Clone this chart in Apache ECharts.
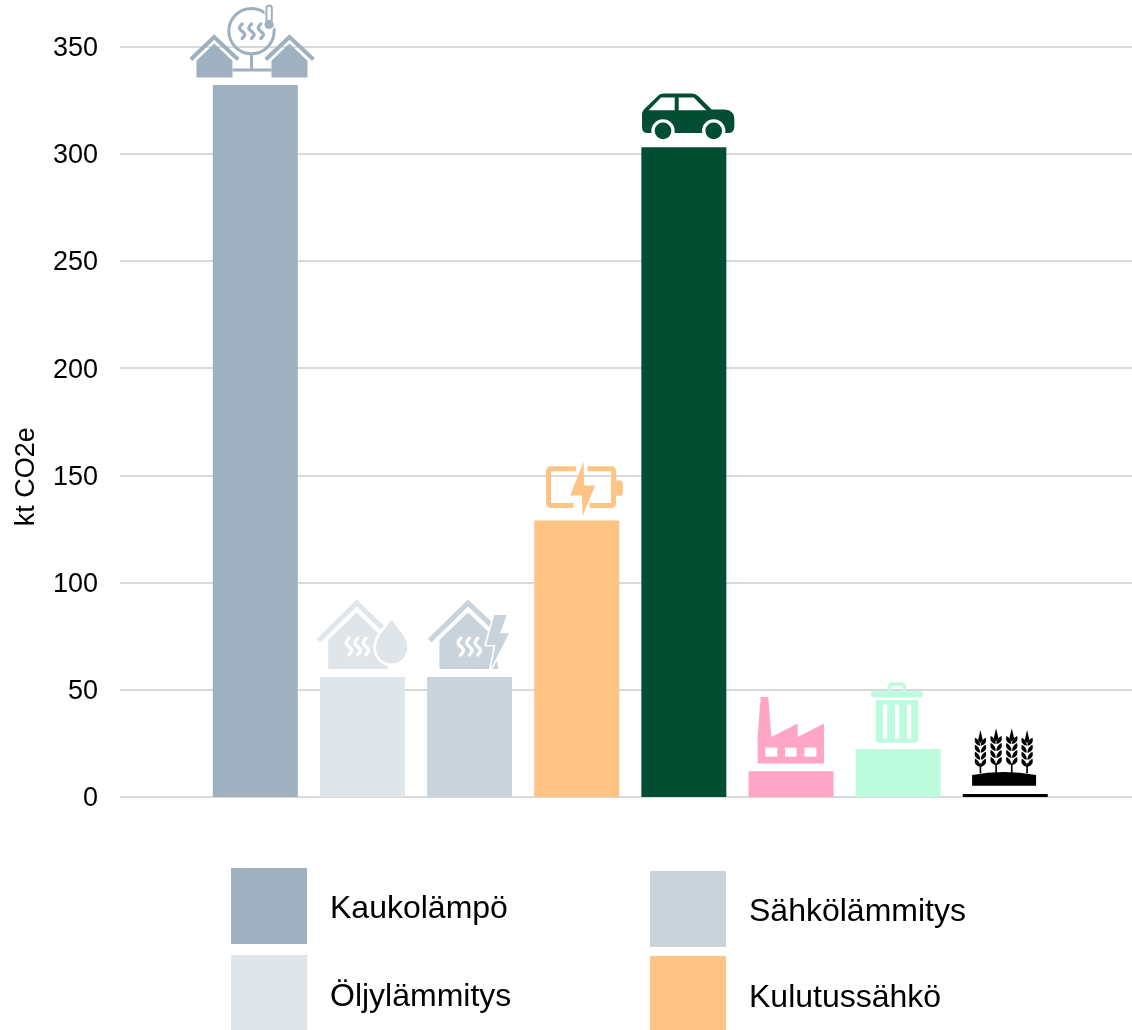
<!DOCTYPE html>
<html>
<head>
<meta charset="utf-8">
<style>html,body{margin:0;padding:0;background:#fff}#c{width:1132px;height:1030px}</style>
<script src="https://cdn.jsdelivr.net/npm/echarts@6/dist/echarts.min.js"></script>
</head>
<body>
<div id="c"></div>
<script>
const categories = ['Kaukolämpö','Öljylämmitys','Sähkölämmitys','Kulutussähkö','Liikenne','Teollisuus','Jätteet','Maatalous'];
const values = [332,56,56,129,303,12,22.4,1.4];
const colors = ['#9FB0C0','#E0E5E9','#C9D3DC','#FFC384','#034E33','#FFA5C6','#BCFBDE','#000000'];
const yTicks = {min:0,max:350,interval:50};

const ff = '"Liberation Sans", Arial, Helvetica, sans-serif';
const WHITE = '#ffffff';
function steam(x,y0,y1){const h=(y1-y0)/2;return `M${x},${y0} C${x-11},${y0+h*0.45} ${x-11},${y0+h*0.65} ${x},${y0+h} C${x+11},${y0+h*1.35} ${x+11},${y0+h*1.55} ${x},${y1}`;}
function fill(p,c){return {type:'path',shape:{pathData:p},style:{fill:c}};}
function line(p,c,w,cap){return {type:'path',shape:{pathData:p},style:{fill:'none',stroke:c,lineWidth:w,lineCap:cap||'butt',lineJoin:'miter'}};}
function outlined(p,c,oc,w){return [{type:'path',shape:{pathData:p},style:{fill:oc,stroke:oc,lineWidth:w,lineJoin:'round'}},fill(p,c)];}
function rect(x,y,w,h,c){return fill(`M${x},${y} H${x+w} V${y+h} H${x} Z`,c);}
function ear(x,top,bottom){
  const out=[fill(`M${x},${top} L${x+7},${top+30} L${x},${top+40} L${x-7},${top+30} Z`,'#000')];
  for(let y=top+24;y<bottom-14;y+=21){
    out.push(fill(`M${x-1},${y+23} C${x-19},${y+20} ${x-18},${y+5} ${x-16},${y-1} C${x-8},${y+3} ${x-1},${y+10} ${x-1},${y+23} Z`,'#000'));
    out.push(fill(`M${x+1},${y+23} C${x+19},${y+20} ${x+18},${y+5} ${x+16},${y-1} C${x+8},${y+3} ${x+1},${y+10} ${x+1},${y+23} Z`,'#000'));
  }
  out.push(line(`M${x},${bottom-10} V${bottom+20}`,'#000',5));
  return out;
}
// Icons are drawn in zoom-pixel units (3x), anchored at the bar top (ax, ay).
const iconDefs = [
  {ax:226.5,ay:255,shapes:c=>[
    line('M33,178 L103,111 L175,178',c,12),
    fill('M50,182 L103,130 L158,182 V232 H50 Z',c),
    line('M258,178 L329,111 L401,178',c,12),
    fill('M275,182 L329,130 L383,182 V232 H275 Z',c),
    line('M158,210 H275',c,9),
    line('M215,160 V210',c,9),
    {type:'circle',shape:{cx:215,cy:93,r:68},style:{fill:'none',stroke:c,lineWidth:9}},
    line(steam(187,72,115),c,10,'round'),
    line(steam(215,72,115),c,10,'round'),
    line(steam(243,72,115),c,10,'round'),
    {type:'circle',shape:{cx:267,cy:72,r:20},style:{fill:WHITE}},
    rect(254,16,28,54,WHITE),
    line('M260,62 V24 A8,8 0 0 1 276,24 V62',c,6),
    {type:'circle',shape:{cx:268,cy:73,r:14},style:{fill:c}}
  ]},
  {ax:157.5,ay:261,shapes:c=>[
    line('M26,152 L140,39 L222,118',c,15),
    fill('M55,150 L140,68 L215,140 L235,237 H55 Z',c),
    line(steam(117,145,195),WHITE,10,'round'),
    line(steam(143,145,195),WHITE,10,'round'),
    line(steam(168,145,195),WHITE,10,'round'),
    ...outlined('M245,88 C258,112 292,138 292,172 A47,49 0 0 1 198,172 C198,138 232,112 245,88 Z',c,WHITE,16)
  ]},
  {ax:478.5,ay:261,shapes:c=>[
    line('M359,152 L474,39 L545,107',c,15),
    fill('M388,150 L474,68 L545,135 L565,237 H388 Z',c),
    line(steam(452,145,195),WHITE,10,'round'),
    line(steam(478,145,195),WHITE,10,'round'),
    line(steam(503,145,195),WHITE,10,'round'),
    ...outlined('M553,75 H590 L570,130 H597 L542,237 L556,165 H528 Z',c,WHITE,10)
  ]},
  {ax:139.5,ay:210,shapes:c=>[
    line('M137,55 H62 Q55,55 55,62 V158 Q55,165 62,165 H130',c,15),
    line('M172,55 H243 Q250,55 250,62 V158 Q250,165 243,165 H178',c,15),
    fill('M258,90 H270 Q278,90 278,98 V128 Q278,136 270,136 H258 Z',c),
    fill('M160,33 L162,105 H195 L157,197 L155,135 H120 Z',c)
  ]},
  {ax:160.5,ay:201,shapes:c=>[
    fill('M35,100 Q35,93 42,86 L84,46 Q90,40 100,40 H185 Q196,40 204,48 L244,88 H282 Q312,90 312,116 V138 Q312,158 296,158 H52 Q35,158 35,140 Z',c),
    fill('M55,90 L92,52 H133 V90 Z',WHITE),
    fill('M145,52 H190 L228,90 H145 Z',WHITE),
    {type:'circle',shape:{cx:98,cy:152,r:35},style:{fill:WHITE}},
    {type:'circle',shape:{cx:250,cy:152,r:35},style:{fill:WHITE}},
    {type:'circle',shape:{cx:98,cy:152,r:25},style:{fill:c}},
    {type:'circle',shape:{cx:250,cy:152,r:25},style:{fill:c}}
  ]},
  {ax:153,ay:303,shapes:c=>[
    fill('M62,80 H85 L94,200 L173,160 V200 L252,160 V280 H53 V200 Z',c),
    rect(76,232,36,27,WHITE),
    rect(135,232,35,27,WHITE),
    rect(193,232,36,27,WHITE)
  ]},
  {ax:475.5,ay:237,shapes:c=>[
    line('M450,64 V52 Q450,42 460,42 H484 Q494,42 494,52 V64',c,10),
    fill('M400,64 H544 Q550,64 550,73 Q550,82 544,82 H400 Q394,82 394,73 Q394,64 400,64 Z',c),
    fill('M408,90 H536 V206 Q536,218 524,218 H420 Q408,218 408,206 Z',c),
    rect(430,104,13,102,WHITE),
    rect(466,104,13,102,WHITE),
    rect(502,104,13,102,WHITE)
  ]},
  {ax:796.5,ay:372,shapes:c=>[
    fill('M697,315 Q790,297 889,315 V347 H697 Z',c),
    ...ear(722,180,290),...ear(769,175,290),...ear(816,175,290),...ear(862,180,290)
  ]}
];

const barSeries = categories.map((name,i)=>({
  name, type:'bar', stack:'all', barWidth:85, silent:true,
  data:[[i,values[i]]], itemStyle:{color:colors[i]}
}));
const iconSeries = {
  type:'custom', silent:true, z:5, clip:false,
  encode:{x:0,y:1},
  data:values.map((v,i)=>[i,v]),
  renderItem(params,api){
    const i=api.value(0), p=api.coord([i,api.value(1)]), d=iconDefs[i];
    return {type:'group',x:p[0]-d.ax/3,y:p[1]-d.ay/3,scaleX:1/3,scaleY:1/3,children:d.shapes(colors[i])};
  }
};
function legend(name,left,top,dy){
  return {data:[name],left,top,orient:'vertical',padding:0,itemWidth:76,itemHeight:76,selectedMode:false,
    icon:'rect',formatter:n=>`{a|${n}}`,
    textStyle:{rich:{a:{fontFamily:ff,fontSize:32,color:'#000',padding:[dy,0,0,18]}}}};
}
const chart = echarts.init(document.getElementById('c'),null,{renderer:'canvas'});
chart.setOption({
  animation:false, backgroundColor:'#fff',
  grid:{left:120,right:0,top:46.5,bottom:233,containLabel:false,outerBoundsMode:'none'},
  xAxis:{type:'value',min:-1.263,max:8.183,show:false,splitLine:{show:false}},
  yAxis:{type:'value',min:yTicks.min,max:yTicks.max,interval:yTicks.interval,
    name:'kt CO2e',nameLocation:'middle',nameGap:80,nameRotate:90,
    nameTextStyle:{fontFamily:ff,fontSize:27,color:'#000',padding:[0,110,0,0]},
    axisLine:{show:false},axisTick:{show:false},
    axisLabel:{margin:22,formatter:'{a|{value}}',rich:{a:{fontFamily:ff,fontSize:27,color:'#000',padding:[4,0,0,0]}}},
    splitLine:{show:true,lineStyle:{color:'#D9D9D9',width:2}}},
  legend:[legend(categories[0],231,868,6),legend(categories[1],231,955,8),legend(categories[2],650,871,6),legend(categories[3],650,956,8)],
  series:[...barSeries,iconSeries]
});
</script>
</body>
</html>
